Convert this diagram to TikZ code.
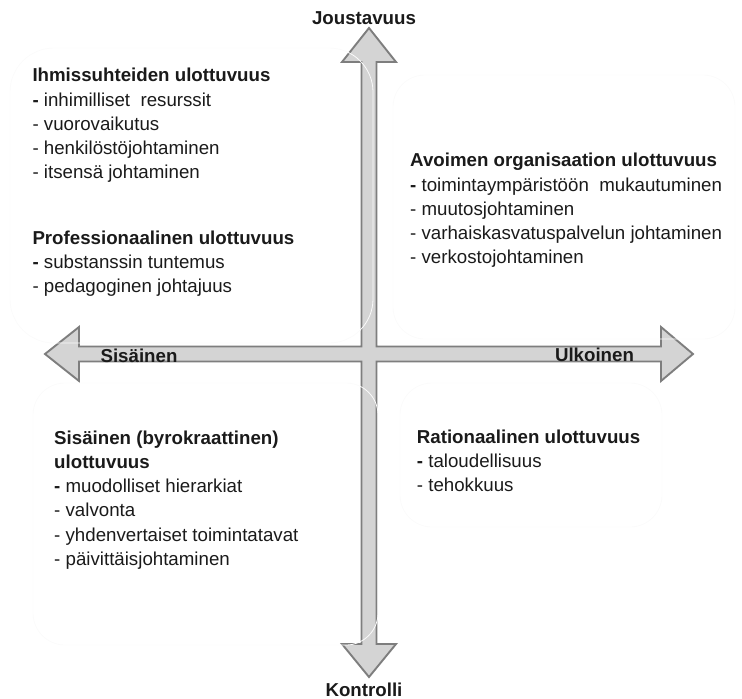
\documentclass[tikz,border=0pt]{standalone}
\usepackage{fontspec}
\setmainfont{Liberation Sans}
\definecolor{arrowfill}{HTML}{D4D4D4}
\definecolor{arrowline}{HTML}{7E7E7E}
\definecolor{txt}{HTML}{1A1A1A}
\definecolor{boxline}{HTML}{FBFBFB}
\begin{document}
\begin{tikzpicture}[x=1pt,y=-1pt,
  blk/.style={anchor=north west, inner sep=0pt, align=left, text=txt,
    font=\fontsize{18.7}{24.2}\selectfont},
  axl/.style={anchor=base, inner sep=0pt, text=txt,
    font=\fontsize{18.7}{22}\selectfont\bfseries},
  qbox/.style={draw=boxline, line width=0.8pt, rounded corners=32pt},
  crossarrow/.style={fill=arrowfill, draw=arrowline, line width=1.9pt, line join=miter}]
\useasboundingbox (0,0) rectangle (742,699);
% cross with four arrow heads
\draw[crossarrow]
  (369,28) -- (396,62) -- (376.5,62) -- (376.5,346.5) -- (661,346.5) -- (661,327)
  -- (693,354) -- (661,381) -- (661,361.5) -- (376.5,361.5) -- (376.5,644)
  -- (396,644) -- (369,677) -- (342,644) -- (361.5,644) -- (361.5,361.5)
  -- (79,361.5) -- (79,381) -- (45,354) -- (79,327) -- (79,346.5)
  -- (361.5,346.5) -- (361.5,62) -- (342,62) -- cycle;
% faint quadrant boxes
\draw[qbox, rounded corners=44pt] (10,48) rectangle (373,343);
\draw[qbox] (393,75) rectangle (735,339);
\draw[qbox] (33,383) rectangle (378,645);
\draw[qbox] (400,383) rectangle (662,527);
% axis labels
\node[axl] (jou) at (364,24) {Joustavuus};
\node[axl] (kon) at (364,696) {Kontrolli};
\node[axl] (sis) at (139,362.5) {Sisäinen};
\node[axl] (ulk) at (594.5,361.7) {Ulkoinen};
% quadrant texts
\node[blk] (ihm) at (32.3,68.2) {\textbf{Ihmissuhteiden ulottuvuus}\\
  \textbf{-} inhimilliset\ \ resurssit\\
  - vuorovaikutus\\
  - henkilöstöjohtaminen\\
  - itsensä johtaminen};
\node[blk] (pro) at (32.3,230.5) {\textbf{Professionaalinen ulottuvuus}\\
  \textbf{-} substanssin tuntemus\\
  - pedagoginen johtajuus};
\node[blk] (avo) at (410,153.2) {\textbf{Avoimen organisaation ulottuvuus}\\
  \textbf{-} toimintaympäristöön\ \ mukautuminen\\
  - muutosjohtaminen\\
  - varhaiskasvatuspalvelun johtaminen\\
  - verkostojohtaminen};
\node[blk] (byr) at (54,430.5) {\textbf{Sisäinen (byrokraattinen)}\\
  \textbf{ulottuvuus}\\
  \textbf{-} muodolliset hierarkiat\\
  - valvonta\\
  - yhdenvertaiset toimintatavat\\
  - päivittäisjohtaminen};
\node[blk] (rat) at (416.7,429.8) {\textbf{Rationaalinen ulottuvuus}\\
  \textbf{-} taloudellisuus\\
  - tehokkuus};
\end{tikzpicture}
\end{document}
